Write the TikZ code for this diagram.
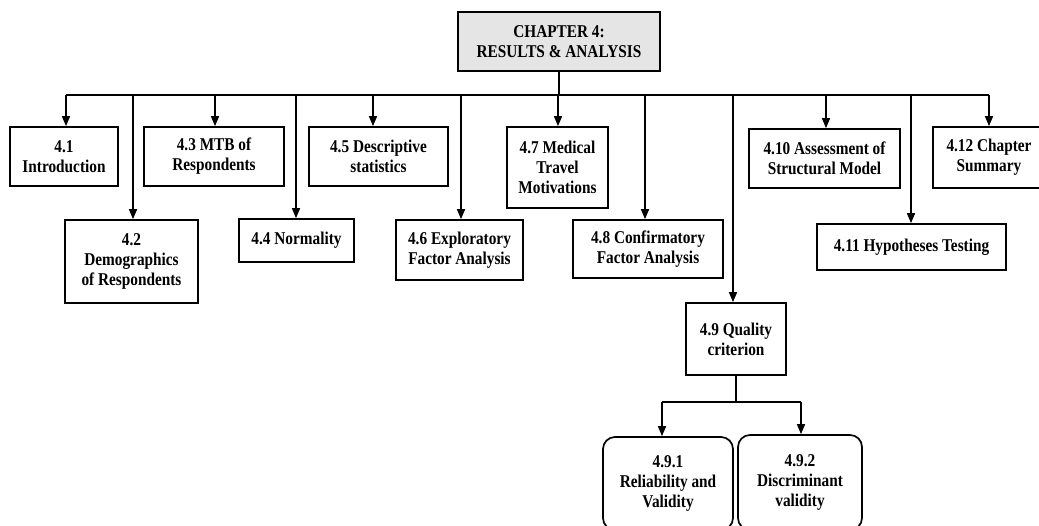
\documentclass[tikz,border=0pt]{standalone}
\usepackage{fontspec}
\setmainfont[FakeStretch=0.85]{Liberation Serif}
\usetikzlibrary{arrows.meta}
\begin{document}
\begin{tikzpicture}[x=1pt,y=-1pt,
  box/.style={draw, line width=1.7pt, align=center, inner sep=0pt,
    font=\fontsize{18}{20}\selectfont\bfseries},
  rbox/.style={box, rounded corners=12pt},
  link/.style={line width=1.5pt},
  arr/.style={link, -{Triangle[length=10pt,width=8pt]}}]
\useasboundingbox (0,0) rectangle (1039,525);
\clip (0,0) rectangle (1039,525);

% chapter heading
\node[box, fill=black!10, minimum width=202, minimum height=59] (top) at (559,41.5)
  {CHAPTER 4:\\RESULTS \& ANALYSIS};

% sections
\node[box, minimum width=108, minimum height=59] (s41) at (64,156.5) {4.1\\Introduction};
\node[box, minimum width=133, minimum height=83] (s42) at (131.5,261.5) {4.2\\Demographics\\of Respondents};
\node[box, minimum width=140, minimum height=59] (s43) at (214,156.5) {4.3 MTB of\\Respondents};
\node[box, minimum width=115, minimum height=43] (s44) at (296.5,240.5) {4.4 Normality};
\node[box, minimum width=139, minimum height=59] (s45) at (378.5,156.5) {4.5 Descriptive\\statistics};
\node[box, minimum width=127, minimum height=60] (s46) at (459.5,250) {4.6 Exploratory\\Factor Analysis};
\node[box, minimum width=101, minimum height=81] (s47) at (557.5,167.5) {4.7 Medical\\Travel\\Motivations};
\node[box, minimum width=150, minimum height=58] (s48) at (648,249) {4.8 Confirmatory\\Factor Analysis};
\node[box, minimum width=100, minimum height=72] (s49) at (736,339) {4.9 Quality\\criterion};
\node[box, minimum width=151, minimum height=59] (s410) at (824.5,158.5) {4.10 Assessment of\\Structural Model};
\node[box, minimum width=189, minimum height=46] (s411) at (911.5,247) {4.11 Hypotheses Testing};
\node[box, minimum width=112, minimum height=61] (s412) at (989,157.5) {4.12 Chapter\\Summary};

% subsections of 4.9
\node[rbox, minimum width=130, minimum height=93] (s491) at (668,483.5) {4.9.1\\Reliability and\\Validity};
\node[rbox, minimum width=124, minimum height=95] (s492) at (800,482.5) {4.9.2\\Discriminant\\validity};

% main bus
\coordinate (busL) at (66,95);
\coordinate (busR) at (989,95);
\draw[link] (top.south) -- (top.south |- busL);
\draw[link] (busL) -- (busR);

\draw[arr] ([xshift=2pt]s41.north |- busL) -- ([xshift=2pt]s41.north);
\draw[arr] ([xshift=1.5pt]s42.north |- busL) -- ([xshift=1.5pt]s42.north);
\draw[arr] ([xshift=1pt]s43.north |- busL) -- ([xshift=1pt]s43.north);
\draw[arr] ([xshift=-0.5pt]s44.north |- busL) -- ([xshift=-0.5pt]s44.north);
\draw[arr] ([xshift=-5.5pt]s45.north |- busL) -- ([xshift=-5.5pt]s45.north);
\draw[arr] ([xshift=1.5pt]s46.north |- busL) -- ([xshift=1.5pt]s46.north);
\draw[arr] ([xshift=0.5pt]s47.north |- busL) -- ([xshift=0.5pt]s47.north);
\draw[arr] ([xshift=-3pt]s48.north |- busL) -- ([xshift=-3pt]s48.north);
\draw[arr] ([xshift=-3pt]s49.north |- busL) -- ([xshift=-3pt]s49.north);
\draw[arr] ([xshift=1.5pt]s410.north |- busL) -- ([xshift=1.5pt]s410.north);
\draw[arr] ([xshift=-0.5pt]s411.north |- busL) -- ([xshift=-0.5pt]s411.north);
\draw[arr] (s412.north |- busL) -- (s412.north);

% branch below 4.9
\coordinate (sub) at (736,402);
\draw[link] (s49.south) -- (sub);
\draw[link] ([xshift=-6pt]s491.north |- sub) -- ([xshift=1pt]s492.north |- sub);
\draw[arr] ([xshift=-6pt]s491.north |- sub) -- ([xshift=-6pt]s491.north);
\draw[arr] ([xshift=1pt]s492.north |- sub) -- ([xshift=1pt]s492.north);
\end{tikzpicture}
\end{document}
